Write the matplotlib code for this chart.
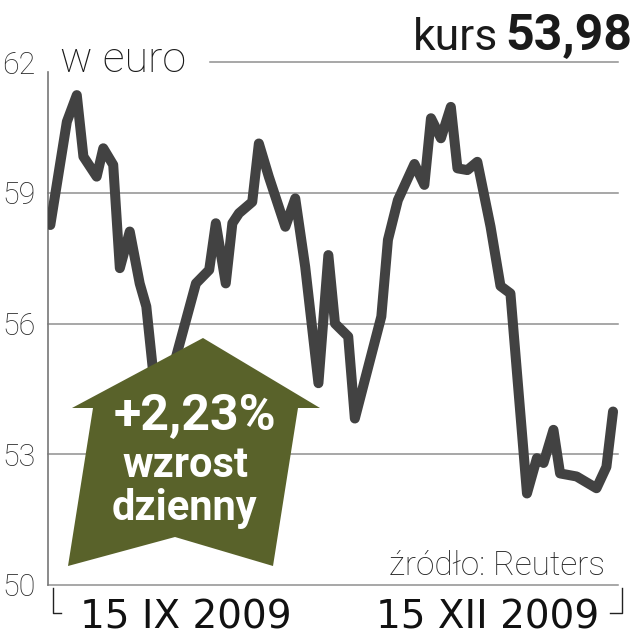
import matplotlib
matplotlib.use('Agg')
import matplotlib.pyplot as plt
from matplotlib.patches import Polygon
from matplotlib.lines import Line2D

# dni liczone od 15 IX 2009
days = [-41, -36, -33, -31, -27, -25, -22, -20, -17, -14, -12, -10, -7, -3,
        3, 7, 9, 12, 14, 16, 20, 22, 25, 30, 33, 36, 40, 43, 45, 49, 51, 54,
        59, 61, 64, 69, 72, 74, 77, 80, 82, 85, 88, 92, 95, 98, 103, 106, 108,
        111, 113, 118, 124, 127, 129]
kurs = [58.26, 60.63, 61.24, 59.83, 59.37, 60.02, 59.64, 57.27, 58.11, 56.92,
        56.39, 54.93, 54.25, 55.24, 56.92, 57.23, 58.30, 56.92, 58.30, 58.53,
        58.79, 60.13, 59.37, 58.22, 58.87, 57.30, 54.63, 57.57, 56.00, 55.70,
        53.82, 54.70, 56.16, 57.92, 58.83, 59.66, 59.18, 60.71, 60.25, 60.97,
        59.56, 59.52, 59.71, 58.22, 56.86, 56.69, 52.10, 52.91, 52.80, 53.56,
        52.56, 52.49, 52.22, 52.71, 53.98]
y_ticks = [50, 53, 56, 59, 62]
x_ticks = [0, 91]
x_labels = ['15 IX 2009', '15 XII 2009']

W, H = 633, 640
GREEN = '#59622a'
GRID = '#8f8f8f'


def px(x, y):
    # piksele obrazka -> wspolrzedne figury
    return (x / W, 1 - y / H)


fig = plt.figure(figsize=(W / 100, H / 100), dpi=100)
ax = fig.add_axes([48 / W, 55 / H, 570 / W, 523 / H])
ax.set_xlim(-41.7, 130.5)
ax.set_ylim(50, 62)

for s in ['top', 'right', 'bottom']:
    ax.spines[s].set_visible(False)
ax.spines['left'].set_color('#777777')
ax.spines['left'].set_linewidth(1.2)
ax.spines['left'].set_bounds(50, 61.77)

for v in y_ticks:
    xmin = 0.284 if v == 62 else 0
    ax.axhline(v, xmin=xmin, xmax=1, color=GRID, lw=1.1, zorder=1, clip_on=False)

ax.plot(days, kurs, color='#424242', lw=7.2, solid_joinstyle='round',
        solid_capstyle='round', zorder=3)

ax.set_yticks(y_ticks)
ax.set_yticklabels([str(v) for v in y_ticks], fontfamily='Roboto',
                   fontweight='light', fontsize=22)
ax.set_xticks(x_ticks)
ax.set_xticklabels(x_labels, fontfamily='DejaVu Sans', fontsize=28)
ax.tick_params(axis='y', length=0, pad=9, colors='#2a2a2a')
ax.tick_params(axis='x', length=0, pad=10, colors='#111111')

# strzalka
arrow = [(203, 338), (320, 408), (298, 408), (273, 566), (175, 537),
         (68, 566), (93, 408), (72, 408)]
ax.add_patch(Polygon([px(x, y) for x, y in arrow], closed=True,
                     transform=fig.transFigure, facecolor=GREEN,
                     edgecolor='none', zorder=5, clip_on=False))
fig.text(*px(195, 430), '+2,23%', color='white', fontsize=36,
         fontweight='bold', fontfamily='Roboto', ha='center', va='baseline',
         zorder=6)
fig.text(*px(185, 477), 'wzrost', color='white', fontsize=30,
         fontweight='bold', fontfamily='Roboto', ha='center', va='baseline',
         zorder=6)
fig.text(*px(184, 520), 'dzienny', color='white', fontsize=30,
         fontweight='bold', fontfamily='Roboto', ha='center', va='baseline',
         zorder=6)

# napisy
fig.text(*px(60, 72), 'w euro', fontsize=31, fontfamily='Roboto',
         fontweight='light', color='#1a1a1a', va='baseline')
fig.text(*px(632, 50), '53,98', fontsize=36, fontfamily='Roboto',
         fontweight='bold', color='#1a1a1a', ha='right', va='baseline')
fig.text(*px(498, 50), 'kurs', fontsize=32, fontfamily='Roboto',
         color='#1a1a1a', ha='right', va='baseline')
fig.text(*px(605, 575), 'źródło: Reuters', fontsize=24, fontfamily='Roboto',
         fontweight='light', color='#222222', ha='right', va='baseline')

# klamry zakresu dat
for xs, ys in [([52.7, 52.7, 61], [588, 613, 613]),
               ([621.5, 621.5, 610], [588, 613, 613])]:
    fig.add_artist(Line2D([x / W for x in xs], [1 - y / H for y in ys],
                          color='#222222', lw=1.0))

fig.savefig('out.png', dpi=100)
